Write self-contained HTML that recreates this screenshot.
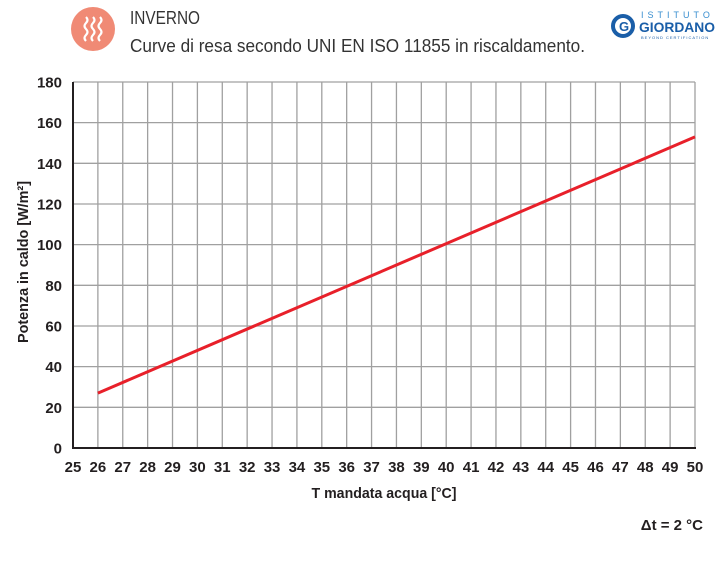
<!DOCTYPE html>
<html><head><style>
body{margin:0;background:#fff;width:724px;height:563px;overflow:hidden}
svg{display:block}
.t{font-family:"Liberation Sans",sans-serif;font-weight:bold;font-size:15px;fill:#231f20}
</style></head><body>
<svg width="724" height="563" xmlns="http://www.w3.org/2000/svg">
<circle cx="93" cy="29" r="22" fill="#f08a75"/>
<g stroke="#fff" stroke-width="2.2" fill="none">
<path d="M86 17 q3 3 0 6 q-3 3 0 6 q3 3 0 6 q-3 3 0 6"/>
<path d="M93 17 q3 3 0 6 q-3 3 0 6 q3 3 0 6 q-3 3 0 6"/>
<path d="M100 17 q3 3 0 6 q-3 3 0 6 q3 3 0 6 q-3 3 0 6"/>
</g>
<text x="130" y="24" font-family="Liberation Sans,sans-serif" font-size="18" fill="#333" textLength="70" lengthAdjust="spacingAndGlyphs">INVERNO</text>
<text x="130" y="52" font-family="Liberation Sans,sans-serif" font-size="18" fill="#333" textLength="455" lengthAdjust="spacingAndGlyphs">Curve di resa secondo UNI EN ISO 11855 in riscaldamento.</text>
<circle cx="623" cy="26" r="10" fill="none" stroke="#1a5ea8" stroke-width="4"/>
<text x="619" y="31" font-family="Liberation Sans,sans-serif" font-weight="bold" font-size="13" fill="#1a5ea8">G</text>
<text x="641" y="18" font-family="Liberation Sans,sans-serif" font-size="9" fill="#3a8fd0" letter-spacing="4">ISTITUTO</text>
<text x="639" y="32" font-family="Liberation Sans,sans-serif" font-weight="bold" font-size="14" fill="#1a5ea8" textLength="76" lengthAdjust="spacingAndGlyphs">GIORDANO</text>
<text x="641" y="39" font-family="Liberation Sans,sans-serif" font-size="4" fill="#1a5ea8" letter-spacing="1">BEYOND CERTIFICATION</text>
<g id="grid" stroke="#a0a0a0" stroke-width="1.3"></g>
<g id="labels"></g>
<line x1="73" y1="82" x2="73" y2="448.5" stroke="#231f20" stroke-width="2"/>
<line x1="72" y1="448" x2="696" y2="448" stroke="#231f20" stroke-width="2"/>
<line x1="97.9" y1="393.1" x2="695" y2="136.9" stroke="#e8202a" stroke-width="3"/>
<text class="t" x="384" y="498" text-anchor="middle" textLength="145" lengthAdjust="spacingAndGlyphs">T mandata acqua [°C]</text>
<text class="t" transform="translate(28,262) rotate(-90)" text-anchor="middle" textLength="162" lengthAdjust="spacingAndGlyphs">Potenza in caldo [W/m²]</text>
<text class="t" x="703" y="530" text-anchor="end">Δt = 2 °C</text>
</svg>
<script>
var ns="http://www.w3.org/2000/svg",g=document.getElementById("grid"),l=document.getElementById("labels");
function el(p,t,a,txt){var e=document.createElementNS(ns,t);for(var k in a)e.setAttribute(k,a[k]);if(txt!=null)e.textContent=txt;p.appendChild(e);}
for(var i=0;i<=25;i++){var x=73+i*24.88;if(i>0)el(g,"line",{x1:x,y1:82,x2:x,y2:448});el(l,"text",{"class":"t",x:x,y:472,"text-anchor":"middle"},25+i);}
for(var j=0;j<=9;j++){var y=448-j*40.67;if(j>0)el(g,"line",{x1:73,y1:y,x2:695,y2:y});el(l,"text",{"class":"t",x:62,y:y+5.5,"text-anchor":"end"},j*20);}
</script>
</body></html>
